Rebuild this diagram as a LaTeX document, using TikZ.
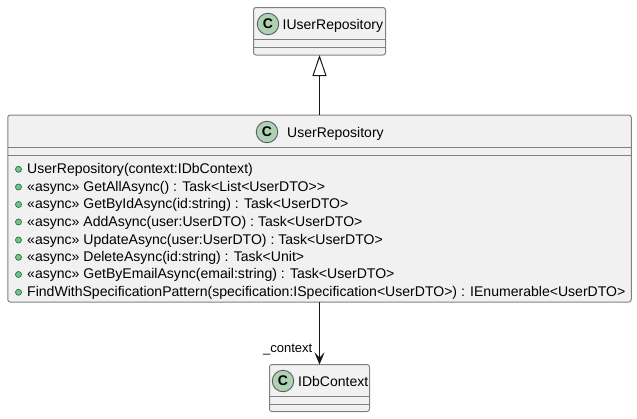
\documentclass[tikz,border=0pt]{standalone}
\usepackage{fontspec}
\setmainfont[Ligatures=NoCommon]{Liberation Sans}
\usetikzlibrary{arrows.meta,positioning}
\definecolor{boxfill}{HTML}{F1F1F1}
\definecolor{boxline}{HTML}{808080}
\definecolor{linkline}{HTML}{181818}
\definecolor{spotfill}{HTML}{ADD1B2}
\definecolor{pubfill}{HTML}{84BE84}
\definecolor{publine}{HTML}{038048}
\tikzset{
  classbox/.style = {draw=boxline, fill=boxfill, line width=1pt, rounded corners=2.5pt,
                     outer sep=0pt, inner sep=0pt},
  spot/.style     = {circle, draw=linkline!70, fill=spotfill, line width=0.9pt, minimum size=21.5pt,
                     inner sep=0pt, font=\bfseries\fontsize{14}{14}\selectfont},
  title/.style    = {anchor=base west, inner sep=0pt, font=\fontsize{14}{14}\selectfont},
  member/.style   = {anchor=base west, inner sep=0pt, font=\fontsize{14.05}{14}\selectfont},
  bullet/.style   = {circle, draw=publine, fill=pubfill, line width=0.7pt, minimum size=6pt,
                     inner sep=0pt},
  rule/.style     = {draw=boxline, line width=1pt},
  link/.style     = {draw=linkline, line width=1pt}
}
\begin{document}
\begin{tikzpicture}[x=1pt, y=-1pt]
\useasboundingbox (0,0) rectangle (637,418);

% the three classes, top to bottom
\node[classbox, minimum width=132pt, minimum height=47.5pt] (iuser) at (319.5,31.25) {};
\node[classbox, minimum width=623.5pt, minimum height=187pt, below=60pt of iuser] (user) {};
\node[classbox, minimum width=100pt, minimum height=47pt, below=62.5pt of user] (idb) {};

% compartments
\foreach \b/\ya/\yb in {iuser/31.5/39.5, user/32.5/40.5, idb/32/40}{
  \draw[rule] ([yshift=-\ya pt]\b.north west) -- ([yshift=-\ya pt]\b.north east);
  \draw[rule] ([yshift=-\yb pt]\b.north west) -- ([yshift=-\yb pt]\b.north east);
}

% headers
\node[spot] (s1) at (268,24) {C};
\node[title] (t1) at (282.5,29.5) {IUserRepository};
\node[spot] (s2) at (267,132) {C};
\node[title] (t2) at (287,137) {UserRepository};
\node[spot] (s3) at (283,381) {C};
\node[title] (t3) at (298,386) {IDbContext};

% methods
\foreach \i/\ypos/\txt in {
  1/169.3/{UserRepository(context:IDbContext)},
  2/187/{«async» GetAllAsync() : Task<List<UserDTO>\kern0pt>},
  3/204.5/{«async» GetByIdAsync(id:string) : Task<UserDTO>},
  4/222/{«async» AddAsync(user:UserDTO) : Task<UserDTO>},
  5/240/{«async» UpdateAsync(user:UserDTO) : Task<UserDTO>},
  6/257.3/{«async» DeleteAsync(id:string) : Task<Unit>},
  7/274.5/{«async» GetByEmailAsync(email:string) : Task<UserDTO>},
  8/292.3/{FindWithSpecificationPattern(specification:ISpecification<UserDTO>) : IEnumerable<UserDTO>}}{
  \node[bullet] (b\i) at (18.5,\ypos) {};
  \node[member] (m\i) at (27,\ypos+4.4) {\txt};
}

% relations
\draw[link, -{Triangle[open, length=21pt, width=14pt, fill=white]}] (user.north) -- (iuser.south);
\draw[link, -{Stealth[length=12pt, width=10pt, inset=5pt]}] (user.south) -- (idb.north);
\node[anchor=base east, inner sep=0pt, font=\fontsize{13}{13}\selectfont] (lcontext) at (312.5,352.5) {\_context};

\end{tikzpicture}
\end{document}
